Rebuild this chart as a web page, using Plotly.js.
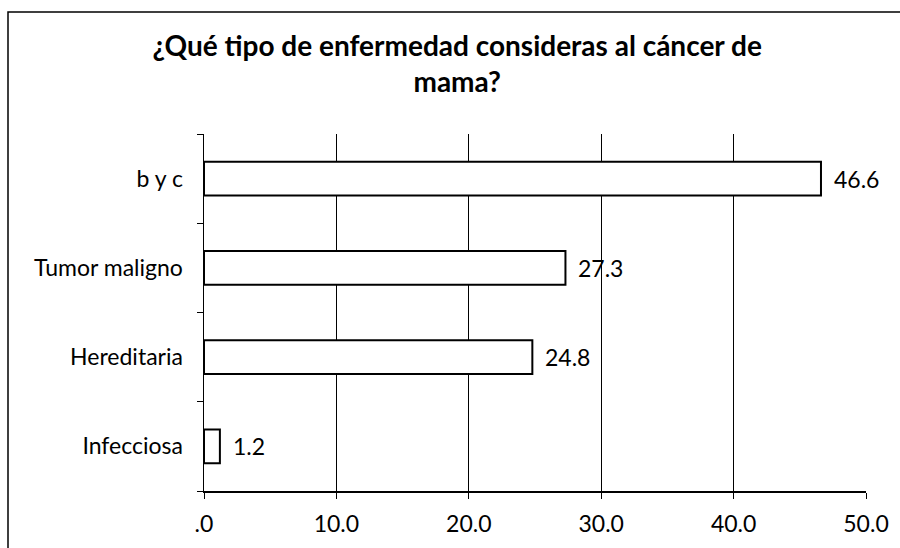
<!DOCTYPE html>
<html>
<head>
<meta charset="utf-8">
<script src="https://cdn.plot.ly/plotly-3.0.1.min.js"></script>
<style>html,body{margin:0;padding:0;background:#fff;}#chart{width:900px;height:548px;}</style>
</head>
<body>
<div id="chart"></div>
<script>
const categories = ['Infecciosa', 'Hereditaria', 'Tumor maligno', 'b y c'];
const values = [1.2, 24.8, 27.3, 46.6];
const valueLabels = ['1.2', '24.8', '27.3', '46.6'];
const xTickVals = [0, 10, 20, 30, 40, 50];
const xTickText = ['.0', '10.0', '20.0', '30.0', '40.0', '50.0'];
const titleText = '¿Qué tipo de enfermedad consideras al cáncer de<br>mama?';

const FONT = 'Lato, "Open Sans", sans-serif';
const LABEL_SIZE = 23;

const trace = {
  type: 'bar',
  orientation: 'h',
  y: categories,
  x: values,
  width: 0.38,
  marker: {color: '#ffffff', line: {color: '#000000', width: 2}},
  hoverinfo: 'none'
};

const L = 204, R = 34, T = 134, B = 57;
const W = 900 - L - R, H = 548 - T - B;
function px2x(px) { return (px - L) / W; }
function py2y(py) { return (548 - B - py) / H; }

const valueAnnotations = values.map((v, i) => ({
  x: v, y: categories[i], xref: 'x', yref: 'y',
  text: valueLabels[i], showarrow: false,
  xanchor: 'left', yanchor: 'middle', xshift: 11,
  font: {family: FONT, size: LABEL_SIZE, color: '#000'}
}));

const layout = {
  width: 900, height: 548,
  margin: {l: L, r: R, t: T, b: B, pad: 0},
  paper_bgcolor: '#ffffff',
  plot_bgcolor: '#ffffff',
  showlegend: false,
  font: {family: FONT, size: LABEL_SIZE, color: '#000'},
  title: {
    text: titleText,
    font: {family: FONT, size: 28, color: '#000', weight: 'bold'},
    x: 0.508, xanchor: 'center',
    y: 1 - 56 / 548, yanchor: 'middle', yref: 'container'
  },
  xaxis: {
    range: [0, 50],
    tickvals: xTickVals,
    ticktext: xTickText,
    showgrid: true, gridcolor: '#000', gridwidth: 1,
    zeroline: false,
    showline: true, linecolor: '#000', linewidth: 1.5,
    ticks: 'outside', ticklen: 6, tickcolor: '#000',
    ticklabelstandoff: 6,
    tickfont: {family: FONT, size: LABEL_SIZE, color: '#000'},
    fixedrange: true
  },
  yaxis: {
    type: 'category',
    categoryorder: 'array', categoryarray: categories,
    showgrid: false, zeroline: false,
    showline: true, linecolor: '#000', linewidth: 1.5,
    ticks: 'outside', ticklen: 6, tickcolor: '#000',
    tickson: 'boundaries',
    ticklabelstandoff: 15,
    tickfont: {family: FONT, size: LABEL_SIZE, color: '#000'},
    fixedrange: true
  },
  annotations: valueAnnotations,
  shapes: [{
    type: 'rect', xref: 'paper', yref: 'paper',
    x0: px2x(8), x1: px2x(910), y0: py2y(560), y1: py2y(12),
    line: {color: '#000', width: 1.5}, fillcolor: 'rgba(0,0,0,0)', layer: 'below'
  }]
};

Plotly.newPlot('chart', [trace], layout, {displayModeBar: false, staticPlot: true});
</script>
</body>
</html>
